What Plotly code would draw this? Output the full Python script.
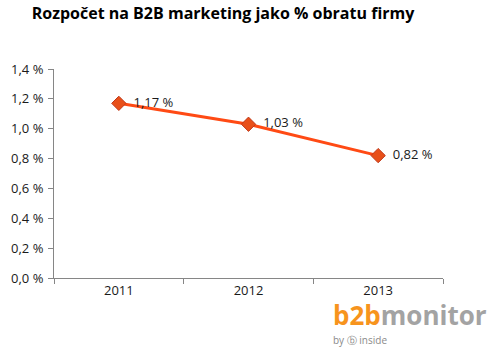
import plotly.graph_objects as go

years = ["2011", "2012", "2013"]
values = [1.17, 1.03, 0.82]
labels = ["1,17 %", "1,03 %", "0,82 %"]
tick_vals = [0, 0.2, 0.4, 0.6, 0.8, 1.0, 1.2, 1.4]
tick_text = ["0,0 %", "0,2 %", "0,4 %", "0,6 %", "0,8 %", "1,0 %", "1,2 %", "1,4 %"]

FONT = "Open Sans, Liberation Sans, sans-serif"
W, H = 493, 361

fig = go.Figure()
fig.add_trace(go.Scatter(
    x=years, y=values, mode="lines+markers+text",
    text=["  " + t for t in labels], textposition="middle right",
    textfont=dict(family=FONT, size=13, color="#1a1a1a"),
    line=dict(color="#FF4A14", width=3),
    marker=dict(symbol="diamond", size=11, color="#E8501A", line=dict(color="#C0391A", width=1)),
    cliponaxis=False,
))

fig.update_layout(
    width=W, height=H,
    margin=dict(l=54, r=50, t=69, b=83),
    paper_bgcolor="white", plot_bgcolor="white",
    showlegend=False,
    font=dict(family=FONT, size=13, color="#1a1a1a"),
    title=dict(text="<b>Rozpočet na B2B marketing jako % obratu firmy</b>",
               x=223 / W, xref="container", xanchor="center", y=1 - 13 / H, yanchor="middle",
               font=dict(size=16, color="#000000")),
)
fig.update_xaxes(
    type="category", showgrid=False, showline=True, linecolor="#868686", linewidth=1,
    ticks="outside", tickson="boundaries", ticklen=5, tickcolor="#868686",
    tickfont=dict(size=13), range=[-0.5, 2.5], automargin=False,
)
fig.update_yaxes(
    range=[0, 1.4], tickvals=tick_vals, ticktext=tick_text, showgrid=False,
    showline=True, linecolor="#868686", linewidth=1, ticks="outside", ticklen=5,
    tickcolor="#868686", tickfont=dict(size=13), zeroline=False, ticklabelstandoff=2,
    automargin=False,
)

fig.add_annotation(
    xref="paper", yref="paper", x=(331 - 54) / 389, y=-(17 / 209), xanchor="left", yanchor="top",
    text="<b><span style='color:#F7941D'>b2b</span><span style='color:#A3A3A3'>monitor</span></b>",
    showarrow=False, font=dict(family=FONT, size=26),
)
fig.add_annotation(
    xref="paper", yref="paper", x=(331 - 54) / 389, y=-(53 / 209), xanchor="left", yanchor="top",
    text="by ⓑ inside", showarrow=False,
    font=dict(family=FONT, size=10, color="#8a8a8a"),
)

fig.write_html("out.html", config={"displayModeBar": False},
               post_script="document.body.style.margin='0';")
